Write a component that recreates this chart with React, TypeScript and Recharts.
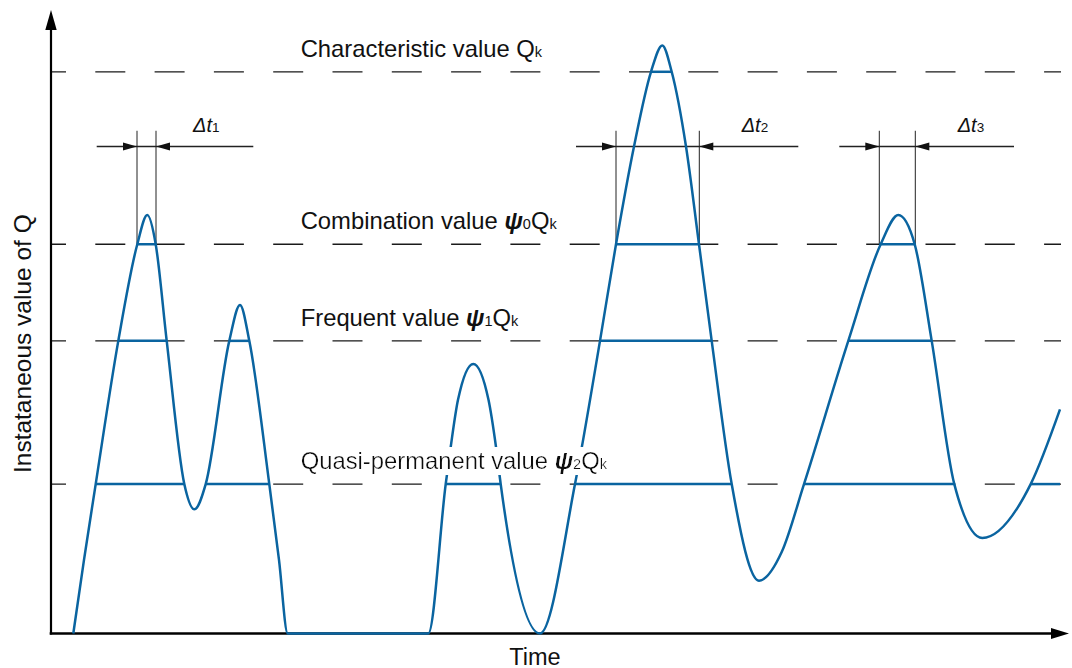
import React from 'react';
import { LineChart, Line, XAxis, YAxis, ReferenceLine, ReferenceDot } from 'recharts';

// ---------- data ----------
// load curve Q(t): time (arbitrary units) and value (percent of Qk)
const curveTime = [2.23, 3.3, 4.47, 6.73, 8.63, 9.63, 10.47, 11.57, 13.33, 14.33, 15.47, 17.83, 18.9, 19.83, 21.83, 22.8, 23.67,
  37.73, 39.47, 39.97, 40.7, 42.23, 43.75, 44.5, 44.97, 48.9, 52.4, 54.9, 56.5, 58.3, 60.0, 61.13, 62.07, 63.5, 64.8, 66.07, 68.07,
  70.8, 73.07, 75.3, 79.73, 82.97, 84.73, 86.37, 88.07, 90.33, 93.13, 97.97, 100.9];
const curveValue = [0, 13.1, 26.6, 52.1, 69.3, 74.5, 69.3, 52.1, 26.6, 22.1, 26.6, 52.1, 58.5, 52.1, 26.6, 13.1, 0,
  0, 26.6, 33.2, 41.6, 48.0, 41.6, 33.2, 26.6, 0, 26.6, 52.1, 69.3, 86.7, 100, 104.7, 100, 86.7, 69.3, 52.1, 26.6,
  9.4, 14.5, 26.6, 52.1, 69.3, 74.5, 69.3, 52.1, 26.6, 17.0, 26.6, 39.9];

// representative levels
const levelValues = [100, 69.3, 52.1, 26.6];
const levelNames = ['Characteristic value', 'Combination value', 'Frequent value', 'Quasi-permanent value'];
const levelPsiIndex = ['', '0', '1', '2'];

// time spans where Q exceeds each level [start, end]
const spansQk = [[60.0, 62.07]];
const spansPsi0 = [[8.6, 10.5], [56.5, 64.83], [82.83, 86.43]];
const spansPsi1 = [[6.73, 11.57], [17.83, 19.83], [54.9, 66.07], [79.73, 88.07]];
const spansPsi2 = [[4.47, 13.33], [15.47, 21.83], [39.47, 44.97], [52.4, 68.07], [75.3, 90.33], [97.97, 100.9]];
const spansByLevel = [spansQk, spansPsi0, spansPsi1, spansPsi2];

// duration dimensions Δt
const dimNames = ['1', '2', '3'];
const dimLineStart = [4.57, 52.5, 78.83];
const dimLineEnd = [20.23, 74.73, 96.3];
const dimLabelTime = [14.2, 69.07, 90.67];
const dimLineLevel = 86.7;
const dimTopLevel = 89.5;
const dimLabelLevel = 89.3;

const levelLabelTime = 24.97;
const dashEndTime = 101.0;
const timeDomain = [0, 101.8];
const valueDomain = [0, 111];
const yLabelValue = 51.6;
const xLabelTime = 48.4;

const data = curveTime.map((t, i) => ({ t, v: curveValue[i] }));

// ---------- styles ----------
const FONT = '"Liberation Sans", Arial, Helvetica, sans-serif';
const BLUE = '#0a64a0';
const INK = '#111';

function head(x1: number, y1: number, x2: number, y2: number, len: number, half: number) {
  const dx = x2 - x1, dy = y2 - y1;
  const L = Math.hypot(dx, dy) || 1;
  const ux = dx / L, uy = dy / L;
  const bx = x2 - ux * len, by = y2 - uy * len;
  const pts = `${x2},${y2} ${bx - uy * half},${by + ux * half} ${bx + uy * half},${by - ux * half}`;
  return { bx, by, pts };
}

const axisShape = (len: number, half: number, width: number) => (p: any) => {
  const h = head(p.x1, p.y1, p.x2, p.y2, len, half);
  return (
    <g>
      <line x1={p.x1} y1={p.y1} x2={h.bx} y2={h.by} stroke="#000" strokeWidth={width} strokeLinecap="square" />
      <polygon points={h.pts} fill="#000" />
    </g>
  );
};

const headOnly = (p: any) => {
  const h = head(p.x1, p.y1, p.x2, p.y2, 14, 4);
  return <polygon points={h.pts} fill="#111" />;
};

const plainLine = (color: string, width: number) => (p: any) => (
  <line x1={p.x1} y1={p.y1} x2={p.x2} y2={p.y2} stroke={color} strokeWidth={width} />
);

const dashedLine = (p: any) => (
  <line x1={p.x1} y1={p.y1} x2={p.x2} y2={p.y2} stroke="#1a1a1a" strokeWidth={1.3}
    strokeDasharray="30 29.3" strokeDashoffset={15} />
);

const LABEL_SIZE = 23.8;
const SUB_SIZE = 14.5;

const levelLabel = (i: number) => (p: any) => {
  const bg = i === 3;
  return (
    <g>
      {bg && (
        <defs>
          <filter id="lblbg" x="-0.01" y="0" width="1.02" height="1">
            <feFlood floodColor="#ffffff" />
            <feComposite in="SourceGraphic" operator="over" />
          </filter>
        </defs>
      )}
      <text x={p.cx} y={p.cy - 15} fontFamily={FONT} fontSize={LABEL_SIZE} fill={INK}
        filter={bg ? 'url(#lblbg)' : undefined}>
        {levelNames[i] + ' '}
        {levelPsiIndex[i] !== '' && <tspan fontWeight="bold" fontStyle="italic">ψ</tspan>}
        {levelPsiIndex[i] !== '' && <tspan fontSize={SUB_SIZE}>{levelPsiIndex[i]}</tspan>}
        <tspan>Q</tspan>
        <tspan fontSize={SUB_SIZE}>k</tspan>
      </text>
    </g>
  );
};

const dimLabel = (i: number) => (p: any) => (
  <text x={p.cx} y={p.cy} fontFamily={FONT} fontSize={20} fill={INK} fontStyle="italic">
    Δt<tspan fontStyle="normal" fontSize={13.5}>{dimNames[i]}</tspan>
  </text>
);

const xTitle = (p: any) => (
  <text x={p.cx} y={p.cy + 31} fontFamily={FONT} fontSize={23.5} fill={INK} textAnchor="middle">Time</text>
);

const yTitle = (p: any) => (
  <text x={p.cx - 20} y={p.cy} fontFamily={FONT} fontSize={24.5} fill={INK} textAnchor="middle"
    transform={`rotate(-90 ${p.cx - 20} ${p.cy})`}>Instataneous value of Q</text>
);

export default function App() {
  return (
    <div style={{ position: 'absolute', left: 0, top: 0, width: 1072, height: 668, background: '#fff' }}>
      <LineChart width={1072} height={668} data={data} margin={{ top: 10, right: 3, bottom: 34.5, left: 51 }}>
        <XAxis dataKey="t" type="number" domain={timeDomain} hide />
        <YAxis type="number" domain={valueDomain} hide />

        {levelValues.map((lv, i) => (
          <ReferenceLine key={'dash' + i} segment={[{ x: 0, y: lv }, { x: dashEndTime, y: lv }]}
            ifOverflow="visible" shape={dashedLine} />
        ))}

        {dimNames.map((n, i) => {
          const sp = spansPsi0[i];
          return (
            <React.Fragment key={'dim' + i}>
              <ReferenceLine segment={[{ x: sp[0], y: levelValues[1] }, { x: sp[0], y: dimTopLevel }]} ifOverflow="visible" shape={plainLine('#222', 1)} />
              <ReferenceLine segment={[{ x: sp[1], y: levelValues[1] }, { x: sp[1], y: dimTopLevel }]} ifOverflow="visible" shape={plainLine('#222', 1)} />
              <ReferenceLine segment={[{ x: dimLineStart[i], y: dimLineLevel }, { x: dimLineEnd[i], y: dimLineLevel }]} ifOverflow="visible" shape={plainLine('#222', 1.3)} />
              <ReferenceLine segment={[{ x: dimLineStart[i], y: dimLineLevel }, { x: sp[0], y: dimLineLevel }]} ifOverflow="visible" shape={headOnly} />
              <ReferenceLine segment={[{ x: dimLineEnd[i], y: dimLineLevel }, { x: sp[1], y: dimLineLevel }]} ifOverflow="visible" shape={headOnly} />
              <ReferenceDot x={dimLabelTime[i]} y={dimLabelLevel} ifOverflow="visible" shape={dimLabel(i)} />
            </React.Fragment>
          );
        })}

        <ReferenceLine segment={[{ x: 0, y: 0 }, { x: timeDomain[1], y: 0 }]} ifOverflow="visible" shape={axisShape(18, 5.5, 2.6)} />
        <ReferenceLine segment={[{ x: 0, y: 0 }, { x: 0, y: valueDomain[1] }]} ifOverflow="visible" shape={axisShape(20, 5.7, 2.2)} />

        {spansByLevel.map((spans, li) =>
          spans.map((sp, j) => (
            <ReferenceLine key={'span' + li + '-' + j} segment={[{ x: sp[0], y: levelValues[li] }, { x: sp[1], y: levelValues[li] }]}
              ifOverflow="visible" shape={plainLine(BLUE, 2.5)} />
          ))
        )}

        <Line type="monotone" dataKey="v" stroke={BLUE} strokeWidth={2.5} dot={false} activeDot={false}
          isAnimationActive={false} />

        {levelValues.map((lv, i) => (
          <ReferenceDot key={'lbl' + i} x={levelLabelTime} y={lv} ifOverflow="visible" shape={levelLabel(i)} />
        ))}
        <ReferenceDot x={xLabelTime} y={0} ifOverflow="visible" shape={xTitle} />
        <ReferenceDot x={0} y={yLabelValue} ifOverflow="visible" shape={yTitle} />
      </LineChart>
    </div>
  );
}
